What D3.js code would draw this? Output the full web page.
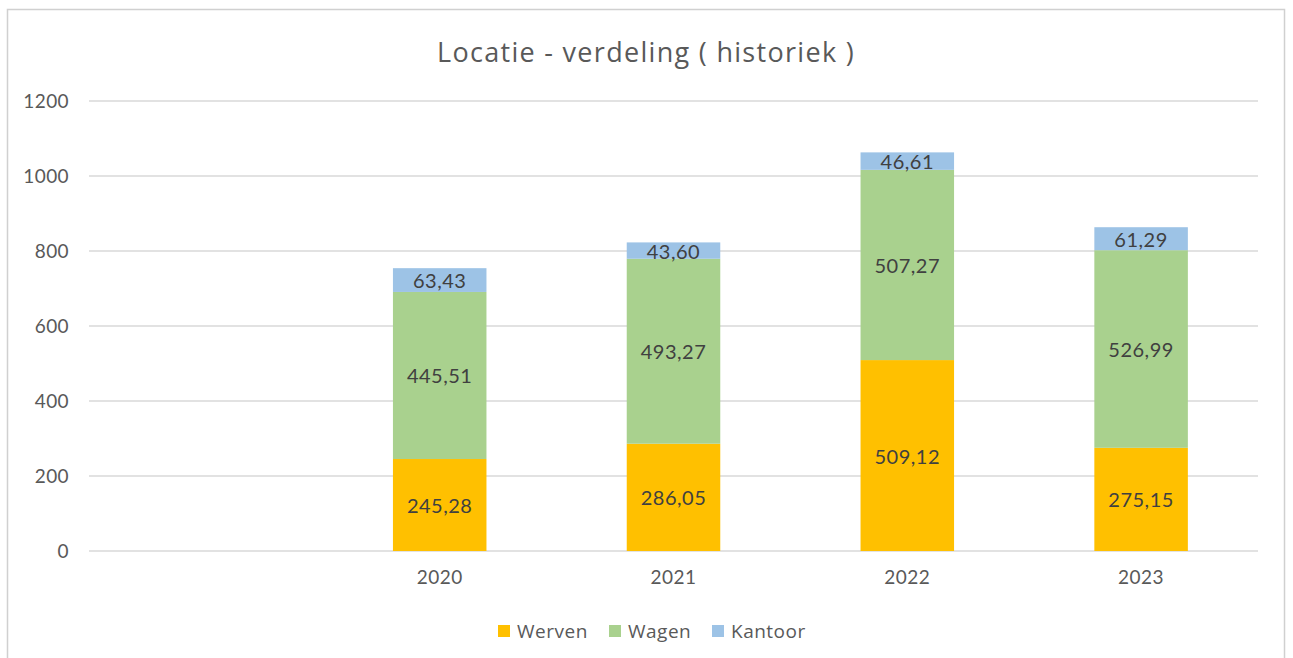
<!DOCTYPE html>
<html><head><meta charset="utf-8">
<script src="https://cdn.jsdelivr.net/npm/d3@7"></script>
<style>body{margin:0;background:#fff}svg{display:block}</style>
</head><body><svg id="c" width="1293" height="658"></svg>
<script>
const categories = ["", "2020", "2021", "2022", "2023"];
const seriesNames = ["Werven", "Wagen", "Kantoor"];
const werven  = [null, 245.28, 286.05, 509.12, 275.15];
const wagen   = [null, 445.51, 493.27, 507.27, 526.99];
const kantoor = [null, 63.43, 43.60, 46.61, 61.29];
const yTicks = [0, 200, 400, 600, 800, 1000, 1200];
const colors = ["#FFC000", "#A9D18E", "#9DC3E6"];
const title = "Locatie - verdeling ( historiek )";

const svg = d3.select("#c");
// chart frame
svg.append("rect").attr("x",7.5).attr("y",9.5).attr("width",1277).attr("height",660)
  .attr("fill","none").attr("stroke","#D0D0D0").attr("stroke-width",1.5);

const x = d3.scaleBand().domain(categories).range([89,1258]).paddingInner(0.6).paddingOuter(0.3);
const y = d3.scaleLinear().domain([0,1200]).range([551,101]);

// gridlines
svg.append("g").selectAll("line").data(yTicks).join("line")
  .attr("x1",89).attr("x2",1258).attr("y1",d=>y(d)).attr("y2",d=>y(d))
  .attr("stroke","#D9D9D9").attr("stroke-width",1.5);

// y labels
const yAxis = d3.axisLeft(y).tickValues(yTicks).tickSize(0).tickPadding(20).tickFormat(d3.format("d"));
const ya = svg.append("g").attr("transform","translate(89,0)").call(yAxis);
ya.select(".domain").remove();
ya.selectAll("text").style("font-size","19px").style("letter-spacing","0.4px").style("fill","#595959").style("font-family","Lato,sans-serif");

// x labels
const xAxis = d3.axisBottom(x).tickSize(0).tickPadding(20);
const xa = svg.append("g").attr("transform","translate(0,551)").call(xAxis);
xa.select(".domain").remove();
xa.selectAll("text").style("font-size","19px").style("letter-spacing","0.5px").style("fill","#595959").style("font-family","Lato,sans-serif");

// stacked data
const rows = categories.map((c,i)=>({cat:c, Werven:werven[i]||0, Wagen:wagen[i]||0, Kantoor:kantoor[i]||0, has: werven[i]!=null}));
const stack = d3.stack().keys(seriesNames)(rows);
const fmt = v => v.toFixed(2).replace(".", ",");

stack.forEach((layer,li)=>{
  const g = svg.append("g");
  const data = layer.filter(d=>d.data.has);
  g.selectAll("rect").data(data).join("rect")
    .attr("x",d=>x(d.data.cat)).attr("width",x.bandwidth())
    .attr("y",d=>y(d[1])).attr("height",d=>y(d[0])-y(d[1]))
    .attr("fill",colors[li]);
  g.selectAll("text").data(data).join("text")
    .attr("x",d=>x(d.data.cat)+x.bandwidth()/2)
    .attr("y",d=>(y(d[0])+y(d[1]))/2)
    .attr("text-anchor","middle").attr("dominant-baseline","central")
    .style("font-family","Lato,sans-serif").style("font-size","20px").style("letter-spacing","0.5px").style("fill","#404040")
    .text(d=>fmt(d.data[layer.key]));
});

// title
svg.append("text").attr("x",646).attr("y",51).attr("text-anchor","middle").attr("dominant-baseline","central")
  .style("font-size","27px").style("font-family","'Open Sans',sans-serif").style("letter-spacing","1.3px")
  .style("fill","#595959").text(title);

// legend
const legX = [498, 609, 712];
const lg = svg.append("g");
seriesNames.forEach((s,i)=>{
  lg.append("rect").attr("x",legX[i]).attr("y",625).attr("width",12).attr("height",12).attr("fill",colors[i]);
  lg.append("text").attr("x",legX[i]+19).attr("y",631).attr("dominant-baseline","central")
    .style("font-family","'Open Sans',sans-serif").style("letter-spacing","0.5px")
    .style("font-size","19px").style("fill","#595959").text(s);
});
</script></body></html>
